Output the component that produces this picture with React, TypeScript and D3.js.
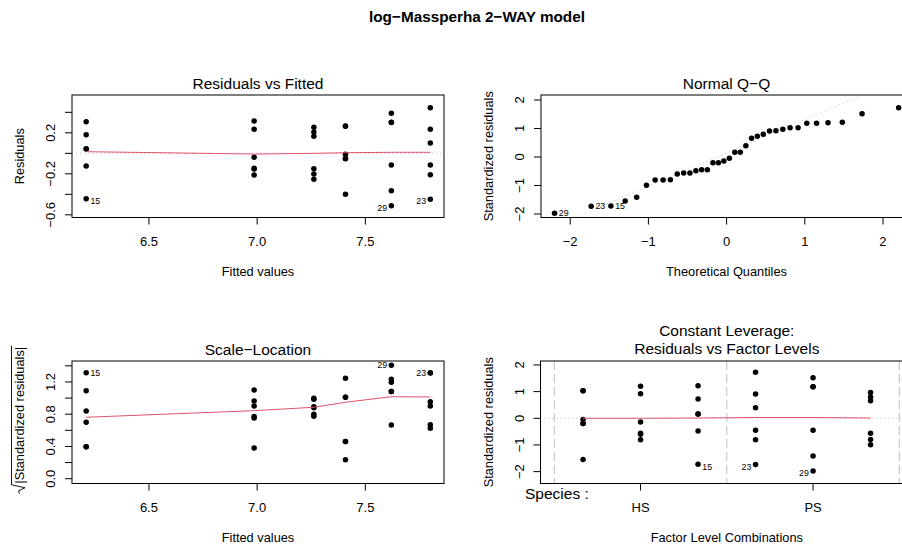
import React from "react";
import * as d3 from "d3";

// ---------------- data ----------------
const mainTitle = "log−Massperha 2−WAY model";
const speciesName = "Species :";
const speciesLevels = ["HS", "PS"];
const speciesTickPos = [1, 4];
const groupBoundaries = [-0.5, 2.5, 5.5];

// factor-level groups (HS x3, PS x3) and their fitted values
const groupFitted = [7.408, 6.986, 6.21, 7.8, 7.62, 7.262];

// Residuals vs Fitted (raw residuals)
const residuals = [
  [0.266, 0.264, -0.01, -0.051, -0.053, -0.4],
  [0.315, 0.234, -0.039, -0.145, -0.154, -0.212],
  [0.308, 0.181, 0.045, 0.043, -0.124, -0.443],
  [0.445, 0.234, 0.1, -0.114, -0.209, -0.449],
  [0.39, 0.302, 0.3, -0.114, -0.365, -0.511],
  [0.254, 0.208, 0.166, -0.15, -0.202, -0.254],
];

// standardized residuals
const stdResiduals = [
  [1.029, 1.029, -0.047, -0.199, -0.199, -1.544],
  [1.205, 0.924, -0.14, -0.561, -0.596, -0.807],
  [1.216, 0.725, 0.163, 0.163, -0.48, -1.72],
  [1.73, 0.912, 0.397, -0.444, -0.807, -1.73],
  [1.52, 1.18, 1.18, -0.444, -1.415, -1.976],
  [0.971, 0.795, 0.655, -0.561, -0.795, -0.994],
];

// sqrt(|standardized residuals|)
const sqrtStdResiduals = [
  [1.245, 1.01, 1.01, 0.46, 0.46, 0.235],
  [1.1, 0.964, 0.902, 0.772, 0.752, 0.381],
  [1.315, 1.092, 0.84, 0.7, 0.397, 0.397],
  [1.315, 1.312, 0.955, 0.902, 0.67, 0.625],
  [1.407, 1.233, 1.195, 1.082, 1.082, 0.666],
  [0.997, 0.985, 0.893, 0.88, 0.8, 0.775],
];

const theoreticalQuantiles = [
  -2.2, -1.732, -1.48, -1.297, -1.15, -1.025, -0.914, -0.812, -0.719, -0.631,
  -0.549, -0.469, -0.393, -0.319, -0.246, -0.175, -0.105, -0.035, 0.035, 0.105,
  0.175, 0.246, 0.319, 0.393, 0.469, 0.549, 0.631, 0.719, 0.812, 0.914, 1.025,
  1.15, 1.297, 1.48, 1.732, 2.2,
];
const normalQuartile = 0.6745;

// red smoother lines
const residSmooth = [0.016, -0.007, 0, 0.006, 0.01, 0.01]; // at ascending fitted
const scaleSmooth = [0.762, 0.844, 0.886, 0.948, 1.017, 1.014]; // at ascending fitted
const levelSmooth = [0, 0, 0.01, 0.03, 0.03, 0.01]; // by factor level

// identified observations
const idLabels = ["15", "23", "29"];
const idGroup = [2, 3, 4];
const idRow = [5, 5, 5];
const idRowSqrt = [0, 0, 0];

// ticks
const fittedTicks = [6.5, 7.0, 7.5];
const residTicks = [-0.6, -0.4, -0.2, 0, 0.2, 0.4];
const residTickLabels = [-0.6, -0.2, 0.2];
const qqTicks = [-2, -1, 0, 1, 2];
const sqrtTicks = [0, 0.2, 0.4, 0.6, 0.8, 1.0, 1.2, 1.4];
const sqrtTickLabels = [0, 0.4, 0.8, 1.2];

// ---------------- styling ----------------
const FONT = "'Liberation Sans', Arial, Helvetica, sans-serif";
const RED = "#DF536B";
const GRAY = "#BEBEBE";
const TICK_FS = 13;
const LAB_FS = 12.8;
const TITLE_FS = 15.5;
const ID_FS = 8.8;
const R_PT = 2.75;

type Box = { x0: number; x1: number; y0: number; y1: number };

const fmt = (v: number, d: number) => (v < 0 ? "−" : "") + Math.abs(v).toFixed(d);

function Frame({ b }: { b: Box }) {
  return (
    <rect x={b.x0} y={b.y0} width={b.x1 - b.x0} height={b.y1 - b.y0} fill="none" stroke="#000" strokeWidth={1} />
  );
}

function XAxis({ b, scale, ticks, labels, digits }: any) {
  return (
    <g>
      {ticks.map((t: number, i: number) => (
        <line key={i} x1={scale(t)} x2={scale(t)} y1={b.y1} y2={b.y1 + 7} stroke="#000" />
      ))}
      {labels.map((t: any, i: number) => (
        <text key={i} x={scale(typeof t === "number" ? t : ticks[i])} y={b.y1 + 28.5} textAnchor="middle" fontSize={TICK_FS} fontFamily={FONT}>
          {typeof t === "number" ? fmt(t, digits) : t}
        </text>
      ))}
    </g>
  );
}

function YAxis({ b, scale, ticks, labels, digits }: any) {
  return (
    <g>
      {ticks.map((t: number, i: number) => (
        <line key={i} y1={scale(t)} y2={scale(t)} x1={b.x0} x2={b.x0 - 7} stroke="#000" />
      ))}
      {labels.map((t: number, i: number) => (
        <text key={i} transform={`translate(${b.x0 - 17},${scale(t)}) rotate(-90)`} textAnchor="middle" fontSize={TICK_FS} fontFamily={FONT}>
          {fmt(t, digits)}
        </text>
      ))}
    </g>
  );
}

function Title({ b, text }: { b: Box; text: string }) {
  return (
    <text x={(b.x0 + b.x1) / 2} y={b.y0 - 6.2} textAnchor="middle" fontSize={TITLE_FS} fontFamily={FONT}>
      {text}
    </text>
  );
}

function XLabel({ b, text }: { b: Box; text: string }) {
  return (
    <text x={(b.x0 + b.x1) / 2} y={b.y1 + 58.5} textAnchor="middle" fontSize={LAB_FS} fontFamily={FONT}>
      {text}
    </text>
  );
}

function YLabel({ b, text }: { b: Box; text: string }) {
  return (
    <text transform={`translate(${b.x0 - 48},${(b.y0 + b.y1) / 2}) rotate(-90)`} textAnchor="middle" fontSize={LAB_FS} fontFamily={FONT}>
      {text}
    </text>
  );
}

function IdText({ x, y, label, right, dy }: any) {
  return (
    <text x={right ? x + 4.3 : x - 4.2} y={y + dy + ID_FS * 0.35} textAnchor={right ? "start" : "end"} fontSize={ID_FS} fontFamily={FONT}>
      {label}
    </text>
  );
}

export default function App() {
  const W = 902;
  const H = 546;

  const b1: Box = { x0: 72, x1: 444, y0: 95, y1: 217.5 };
  const b2: Box = { x0: 541, x1: 912, y0: 95, y1: 217.5 };
  const b3: Box = { x0: 72, x1: 444, y0: 361, y1: 483.5 };
  const b4: Box = { x0: 540.5, x1: 913.1, y0: 361, y1: 483.5 };

  const xFit = d3.scaleLinear().domain([6.1445, 7.8633]).range([b1.x0, b1.x1]);
  const yRes = d3.scaleLinear().domain([-0.626, 0.569]).range([b1.y1, b1.y0]);
  const xQ = d3.scaleLinear().domain([-2.3734, 2.371]).range([b2.x0, b2.x1]);
  const yQ = d3.scaleLinear().domain([-2.123, 2.175]).range([b2.y1, b2.y0]);
  const xFit3 = d3.scaleLinear().domain([6.1445, 7.8633]).range([b3.x0, b3.x1]);
  const ySq = d3.scaleLinear().domain([-0.0596, 1.46]).range([b3.y1, b3.y0]);
  const xL = d3.scaleLinear().domain([-0.74, 5.74]).range([b4.x0, b4.x1]);
  const yL = d3.scaleLinear().domain([-2.445, 2.148]).range([b4.y1, b4.y0]);

  const fittedSorted = d3.sort(groupFitted);
  const line = d3.line<[number, number]>();

  const sortedStd = d3.sort(stdResiduals.flat());
  const q1 = d3.quantile(sortedStd, 0.25) as number;
  const q3 = d3.quantile(sortedStd, 0.75) as number;
  const qqSlope = (q3 - q1) / (2 * normalQuartile);
  const qqInt = q1 + qqSlope * normalQuartile;
  const [qx0, qx1] = xQ.domain();

  const midFit = (xFit.domain()[0] + xFit.domain()[1]) / 2;
  const midQ = 0;

  const sqrtLabelW = 137;

  return (
    <svg width={W} height={H} viewBox={`0 0 ${W} ${H}`} style={{ position: "absolute", left: 0, top: 0, background: "#fff" }}>
      <defs>
        <clipPath id="c1"><rect x={b1.x0} y={b1.y0} width={b1.x1 - b1.x0} height={b1.y1 - b1.y0} /></clipPath>
        <clipPath id="c2"><rect x={b2.x0} y={b2.y0} width={b2.x1 - b2.x0} height={b2.y1 - b2.y0} /></clipPath>
        <clipPath id="c4"><rect x={b4.x0} y={b4.y0} width={b4.x1 - b4.x0} height={b4.y1 - b4.y0} /></clipPath>
      </defs>
      <rect x={0} y={0} width={W} height={H} fill="#fff" />

      <text x={477} y={21.5} textAnchor="middle" fontSize={15.3} fontWeight="bold" fontFamily={FONT}>
        {mainTitle}
      </text>

      {/* ---------- Panel 1: Residuals vs Fitted ---------- */}
      <g>
        <line x1={b1.x0} x2={b1.x1} y1={yRes(0)} y2={yRes(0)} stroke={GRAY} strokeDasharray="1,3" />
        {residuals.map((arr, g) =>
          arr.map((v, i) => <circle key={`${g}-${i}`} cx={xFit(groupFitted[g])} cy={yRes(v)} r={R_PT} fill="#000" />)
        )}
        <path d={line(fittedSorted.map((f, i) => [xFit(f), yRes(residSmooth[i])]))!} fill="none" stroke={RED} strokeWidth={1} clipPath="url(#c1)" />
        {idLabels.map((lab, k) => {
          const f = groupFitted[idGroup[k]];
          const v = residuals[idGroup[k]][idRow[k]];
          return <IdText key={lab} x={xFit(f)} y={yRes(v)} label={lab} right={f < midFit} dy={1.8} />;
        })}
        <Frame b={b1} />
        <XAxis b={b1} scale={xFit} ticks={fittedTicks} labels={fittedTicks} digits={1} />
        <YAxis b={b1} scale={yRes} ticks={residTicks} labels={residTickLabels} digits={1} />
        <Title b={b1} text="Residuals vs Fitted" />
        <XLabel b={b1} text="Fitted values" />
        <YLabel b={b1} text="Residuals" />
      </g>

      {/* ---------- Panel 2: Normal Q-Q ---------- */}
      <g>
        <line
          x1={xQ(qx0)} y1={yQ(qqInt + qqSlope * qx0)} x2={xQ(qx1)} y2={yQ(qqInt + qqSlope * qx1)}
          stroke={GRAY} strokeDasharray="1,3" clipPath="url(#c2)"
        />
        {sortedStd.map((v, i) => (
          <circle key={i} cx={xQ(theoreticalQuantiles[i])} cy={yQ(v)} r={R_PT} fill="#000" />
        ))}
        {idLabels.map((lab, k) => {
          const v = stdResiduals[idGroup[k]][idRow[k]];
          const r = sortedStd.indexOf(v);
          const tq = theoreticalQuantiles[r];
          return <IdText key={lab} x={xQ(tq)} y={yQ(v)} label={lab} right={tq < midQ} dy={0} />;
        })}
        <Frame b={b2} />
        <XAxis b={b2} scale={xQ} ticks={qqTicks} labels={qqTicks} digits={0} />
        <YAxis b={b2} scale={yQ} ticks={qqTicks} labels={qqTicks} digits={0} />
        <Title b={b2} text="Normal Q−Q" />
        <XLabel b={b2} text="Theoretical Quantiles" />
        <YLabel b={b2} text="Standardized residuals" />
      </g>

      {/* ---------- Panel 3: Scale-Location ---------- */}
      <g>
        {sqrtStdResiduals.map((arr, g) =>
          arr.map((v, i) => <circle key={`${g}-${i}`} cx={xFit3(groupFitted[g])} cy={ySq(v)} r={R_PT} fill="#000" />)
        )}
        <path d={line(fittedSorted.map((f, i) => [xFit3(f), ySq(scaleSmooth[i])]))!} fill="none" stroke={RED} strokeWidth={1} />
        {idLabels.map((lab, k) => {
          const f = groupFitted[idGroup[k]];
          const v = sqrtStdResiduals[idGroup[k]][idRowSqrt[k]];
          return <IdText key={lab} x={xFit3(f)} y={ySq(v)} label={lab} right={f < midFit} dy={0} />;
        })}
        <Frame b={b3} />
        <XAxis b={b3} scale={xFit3} ticks={fittedTicks} labels={fittedTicks} digits={1} />
        <YAxis b={b3} scale={ySq} ticks={sqrtTicks} labels={sqrtTickLabels} digits={1} />
        <Title b={b3} text="Scale−Location" />
        <XLabel b={b3} text="Fitted values" />
        <g transform={`translate(${b3.x0 - 48},${(b3.y0 + b3.y1) / 2}) rotate(-90)`}>
          <text x={7} y={0} textAnchor="middle" fontSize={LAB_FS} fontFamily={FONT}>
            |Standardized residuals|
          </text>
          <path
            d={`M${7 - sqrtLabelW / 2 - 10},${-4.5} L${7 - sqrtLabelW / 2 - 7},${-5.5} L${7 - sqrtLabelW / 2 - 4},${1} L${7 - sqrtLabelW / 2 - 1},${-12.5} L${7 + sqrtLabelW / 2 + 1},${-12.5}`}
            fill="none" stroke="#000" strokeWidth={0.9}
          />
        </g>
      </g>

      {/* ---------- Panel 4: Residuals vs Factor Levels ---------- */}
      <g>
        {groupBoundaries.map((gb, i) => (
          <line key={i} x1={xL(gb)} x2={xL(gb)} y1={b4.y0} y2={b4.y1} stroke={GRAY} strokeDasharray="9,4" />
        ))}
        <line x1={b4.x0} x2={b4.x1} y1={yL(0)} y2={yL(0)} stroke={GRAY} strokeDasharray="1,3" />
        {stdResiduals.map((arr, g) =>
          arr.map((v, i) => <circle key={`${g}-${i}`} cx={xL(g)} cy={yL(v)} r={R_PT} fill="#000" />)
        )}
        <path d={line(levelSmooth.map((v, g) => [xL(g), yL(v)]))!} fill="none" stroke={RED} strokeWidth={1} clipPath="url(#c4)" />
        {idLabels.map((lab, k) => {
          const g = idGroup[k];
          const v = stdResiduals[g][idRow[k]];
          return <IdText key={lab} x={xL(g)} y={yL(v)} label={lab} right={g < 2.5} dy={2.4} />;
        })}
        <Frame b={b4} />
        <XAxis b={b4} scale={xL} ticks={speciesTickPos} labels={speciesLevels} digits={0} />
        <YAxis b={b4} scale={yL} ticks={qqTicks} labels={qqTicks} digits={0} />
        <text x={525} y={499.3} fontSize={15.5} fontFamily={FONT}>{speciesName}</text>
        <text x={(b4.x0 + b4.x1) / 2} y={b4.y0 - 25.5} textAnchor="middle" fontSize={TITLE_FS} fontFamily={FONT}>
          Constant Leverage:
        </text>
        <text x={(b4.x0 + b4.x1) / 2} y={b4.y0 - 6.8} textAnchor="middle" fontSize={TITLE_FS} fontFamily={FONT}>
          Residuals vs Factor Levels
        </text>
        <XLabel b={b4} text="Factor Level Combinations" />
        <YLabel b={b4} text="Standardized residuals" />
      </g>
    </svg>
  );
}
